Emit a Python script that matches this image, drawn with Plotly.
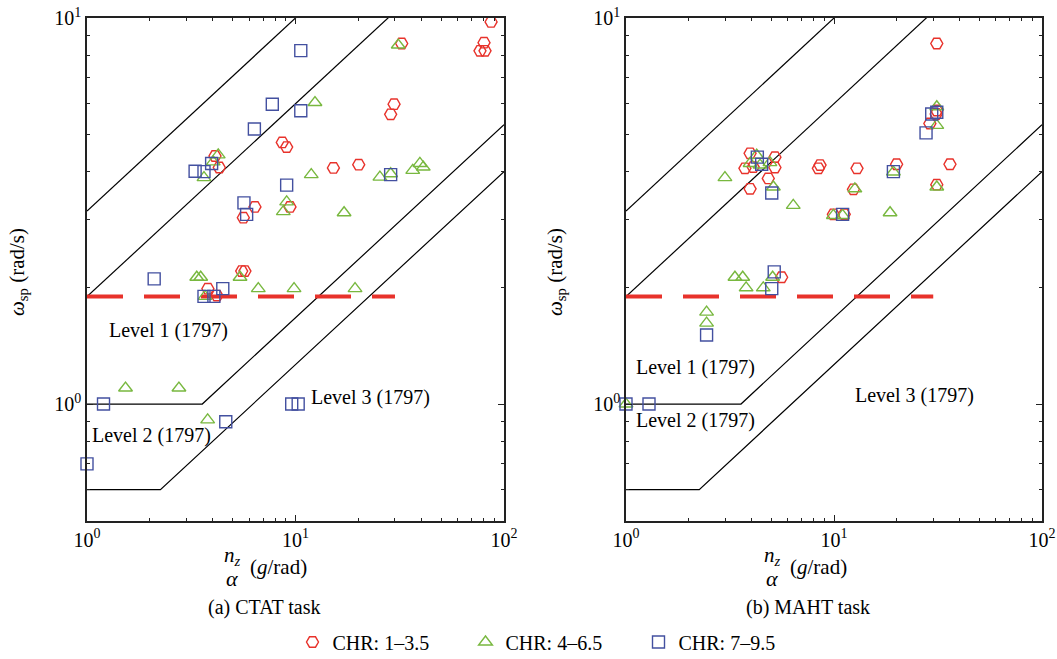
import numpy as np
import plotly.graph_objects as go

# ---------------- data (nz/alpha [g/rad], omega_sp [rad/s]) ----------------
# (a) CTAT task
ctat_chr1_x = [86.7, 80.2, 76.7, 81.1, 32.3, 29.7, 28.6, 20.1, 15.2, 8.64, 9.07, 4.11, 4.31,
               6.39, 9.41, 5.62, 5.52, 5.72, 3.80, 4.20]
ctat_chr1_y = [9.77, 8.63, 8.22, 8.22, 8.59, 5.98, 5.63, 4.17, 4.09, 4.76, 4.63, 4.39, 4.10,
               3.24, 3.24, 3.04, 2.21, 2.21, 1.99, 1.91]
ctat_chr2_x = [31.1, 12.4, 25.4, 28.6, 36.5, 39.5, 41.0, 11.9, 4.26, 4.03, 3.64, 9.07, 8.74,
               17.1, 3.36, 3.51, 5.42, 6.63, 9.84, 19.3, 3.68, 1.53, 2.76, 3.79]
ctat_chr2_y = [8.51, 6.04, 3.87, 3.95, 4.03, 4.20, 4.11, 3.93, 4.42, 4.24, 3.86, 3.34, 3.15,
               3.13, 2.13, 2.13, 2.13, 1.99, 1.99, 1.99, 1.90, 1.10, 1.10, 0.91]
ctat_chr3_x = [10.6, 7.74, 10.6, 6.35, 3.30, 3.64, 3.96, 9.07, 28.6, 5.66, 5.83, 4.48, 3.64,
               4.06, 2.10, 1.20, 4.63, 9.59, 10.3, 1.0]
ctat_chr3_y = [8.23, 5.98, 5.75, 5.16, 4.01, 4.00, 4.20, 3.69, 3.93, 3.32, 3.10, 1.99, 1.90,
               1.90, 2.11, 1.00, 0.90, 1.00, 1.00, 0.70]

# (b) MAHT task
maht_chr1_x = [31.2, 31.2, 31.0, 28.9, 20.0, 36.1, 31.2, 3.95, 5.20, 3.73, 4.09, 5.20, 4.83,
               3.95, 8.57, 8.41, 12.9, 12.4, 9.93, 11.2, 5.60]
maht_chr1_y = [8.59, 5.76, 5.64, 5.33, 4.18, 4.18, 3.70, 4.46, 4.36, 4.08, 4.11, 4.10, 3.84,
               3.61, 4.16, 4.08, 4.08, 3.60, 3.10, 3.10, 2.13]
maht_chr2_x = [31.2, 31.2, 19.3, 31.2, 2.99, 4.25, 3.95, 4.41, 4.92, 5.11, 6.37, 9.93, 11.0,
               12.6, 18.6, 3.34, 3.64, 3.78, 4.57, 5.07, 2.44, 2.44, 1.0]
maht_chr2_y = [5.89, 5.27, 3.99, 3.65, 3.86, 4.41, 4.20, 4.16, 4.22, 3.65, 3.27, 3.08, 3.08,
               3.61, 3.13, 2.13, 2.13, 2.00, 2.00, 2.13, 1.73, 1.62, 1.00]
maht_chr3_x = [31.2, 29.5, 27.7, 19.3, 4.28, 4.49, 5.02, 11.0, 5.16, 5.02, 2.44, 1.29, 1.0]
maht_chr3_y = [5.70, 5.64, 5.04, 4.00, 4.36, 4.18, 3.52, 3.10, 2.20, 1.99, 1.51, 1.00, 1.00]

series_names = ["CHR: 1\u20133.5", "CHR: 4\u20136.5", "CHR: 7\u20139.5"]

# CAP boundaries (MIL-F-1797, Category A)
cap_upper = [10.0, 3.6]          # Level 2 / Level 1 upper CAP
cap_lower = [0.28, 0.16]         # Level 1 / Level 2 lower CAP
omega_min = [1.0, 0.6]           # Level 1 / Level 2 minimum omega_sp
omega_level1_dash = 1.9
dash_x_end = 30.0
level_labels = ["Level 1 (1797)", "Level 2 (1797)", "Level 3 (1797)"]
subtitles = ["(a) CTAT task", "(b) MAHT task"]

# ---------------- styling ----------------
FONT = "Liberation Serif, Times New Roman, serif"
FS = 19
RED = "#e8322b"
GREEN = "#78b83f"
BLUE = "#4350a0"
sym = ["hexagon2-open", "triangle-up-open", "square-open"]
cols = [RED, GREEN, BLUE]

W, H = 1057, 659
panels = [
    dict(x0=87, x1=504, data=[(ctat_chr1_x, ctat_chr1_y), (ctat_chr2_x, ctat_chr2_y), (ctat_chr3_x, ctat_chr3_y)]),
    dict(x0=626, x1=1042, data=[(maht_chr1_x, maht_chr1_y), (maht_chr2_x, maht_chr2_y), (maht_chr3_x, maht_chr3_y)]),
]
ytop, ybot = 18, 521

fig = go.Figure()

for p, panel in enumerate(panels):
    xa = "x" if p == 0 else "x2"
    ya = "y" if p == 0 else "y2"
    # boundary lines
    for c in cap_upper:
        xs = np.array([1.0, 100.0])
        fig.add_trace(go.Scatter(x=xs, y=np.sqrt(c * xs), mode="lines", xaxis=xa, yaxis=ya,
                                 line=dict(color="black", width=1.2), showlegend=False, hoverinfo="skip"))
    for c, om in zip(cap_lower, omega_min):
        knee = om ** 2 / c
        xs = np.array([1.0, knee, 100.0])
        ys = np.array([om, om, np.sqrt(c * 100.0)])
        fig.add_trace(go.Scatter(x=xs, y=ys, mode="lines", xaxis=xa, yaxis=ya,
                                 line=dict(color="black", width=1.2), showlegend=False, hoverinfo="skip"))
    fig.add_trace(go.Scatter(x=[1.0, dash_x_end], y=[omega_level1_dash, omega_level1_dash], mode="lines",
                             xaxis=xa, yaxis=ya, line=dict(color=RED, width=4, dash="36px,21px"),
                             showlegend=False, hoverinfo="skip"))
    # data points
    for k, (xs, ys) in enumerate(panel["data"]):
        fig.add_trace(go.Scatter(x=xs, y=ys, mode="markers", xaxis=xa, yaxis=ya, name=series_names[k],
                                 marker=dict(symbol=sym[k], size=12, color=cols[k], line=dict(width=1.4, color=cols[k])),
                                 cliponaxis=False, showlegend=(p == 0)))

# axes
xt_vals = [1, 10, 100]
xt_text = ["10<sup>0</sup>", "10<sup>1</sup>", "10<sup>2</sup>"]
yt_vals = [1, 10]
yt_text = ["10<sup>0</sup>", "10<sup>1</sup>"]
xminor = [2, 3, 4, 5, 6, 7, 8, 9, 20, 30, 40, 50, 60, 70, 80, 90]
yminor = [0.5, 0.6, 0.7, 0.8, 0.9, 2, 3, 4, 5, 6, 7, 8, 9]

common = dict(showgrid=False, zeroline=False, showline=True, linecolor="#222", linewidth=1.5,
              mirror="ticks", ticks="inside", ticklen=6, tickwidth=1.2, tickcolor="#222",
              automargin=False,
              tickfont=dict(family=FONT, size=20, color="black"))
ydom = [1 - ybot / H, 1 - ytop / H]
for p, panel in enumerate(panels):
    sfx = "" if p == 0 else "2"
    fig.update_layout(**{
        "xaxis" + sfx: dict(type="log", range=[0, 2], domain=[panel["x0"] / W, panel["x1"] / W],
                            anchor="y" + sfx, tickvals=xt_vals, ticktext=xt_text,
                            minor=dict(tickvals=xminor, ticks="inside", ticklen=3, tickcolor="#222", showgrid=False),
                            **common),
        "yaxis" + sfx: dict(type="log", range=[-0.303, 1.0], domain=ydom, anchor="x" + sfx,
                            tickvals=yt_vals, ticktext=yt_text,
                            minor=dict(tickvals=yminor, ticks="inside", ticklen=3, tickcolor="#222", showgrid=False),
                            **common),
    })

ann = []
def add_text(xref, yref, x, y, text, size=FS, **kw):
    ann.append(dict(xref=xref, yref=yref, x=x, y=y, text=text, showarrow=False,
                    font=dict(family=FONT, size=size, color="black"), **kw))

# level labels (data coordinates, log axes -> log10)
left_lbl = [(2.45, 1.55), (2.03, 0.83), (22.8, 1.04)]
right_lbl = [(2.17, 1.24), (2.17, 0.905), (24.3, 1.05)]
for i, (x, y) in enumerate(left_lbl):
    add_text("x", "y", np.log10(x), np.log10(y), level_labels[i], size=20)
for i, (x, y) in enumerate(right_lbl):
    add_text("x2", "y2", np.log10(x), np.log10(y), level_labels[i], size=20)

# axis titles, subtitles (paper coordinates from pixels)
def px(x):
    return x / W
def py(y):
    return 1 - y / H

ytitle = "<i>\u03c9</i><sub>sp</sub> (rad/s)"
for cx in [18, 556]:
    add_text("paper", "paper", px(cx), py(272), ytitle, size=21, textangle=-90, xanchor="center", yanchor="middle")

for cx in [232, 772]:
    add_text("paper", "paper", px(cx), py(556), "<i>n<sub>z</sub></i>", size=21, xanchor="center", yanchor="middle")
    add_text("paper", "paper", px(cx), py(578), "<i>\u03b1</i>", size=22, xanchor="center", yanchor="middle")
    add_text("paper", "paper", px(cx + 16), py(567), "(<i>g</i>/rad)", size=21, xanchor="left", yanchor="middle")

add_text("paper", "paper", px(264), py(607), subtitles[0], size=20, xanchor="center", yanchor="middle")
add_text("paper", "paper", px(808), py(607), subtitles[1], size=20, xanchor="center", yanchor="middle")

fig.update_layout(
    width=W, height=H, margin=dict(l=0, r=0, t=0, b=0, autoexpand=False),
    paper_bgcolor="white", plot_bgcolor="white",
    annotations=ann,
    showlegend=True,
    legend=dict(orientation="h", x=px(552), y=py(642), xanchor="center", yanchor="middle",
                font=dict(family=FONT, size=20, color="black"), itemwidth=30, tracegroupgap=0,
                entrywidth=128, entrywidthmode="pixels",
                bgcolor="rgba(0,0,0,0)"),
    font=dict(family=FONT, size=FS, color="black"),
)

fig.write_html("out.html", config={"displayModeBar": False},
               post_script="document.body.style.margin='0';document.body.style.overflow='hidden';")
